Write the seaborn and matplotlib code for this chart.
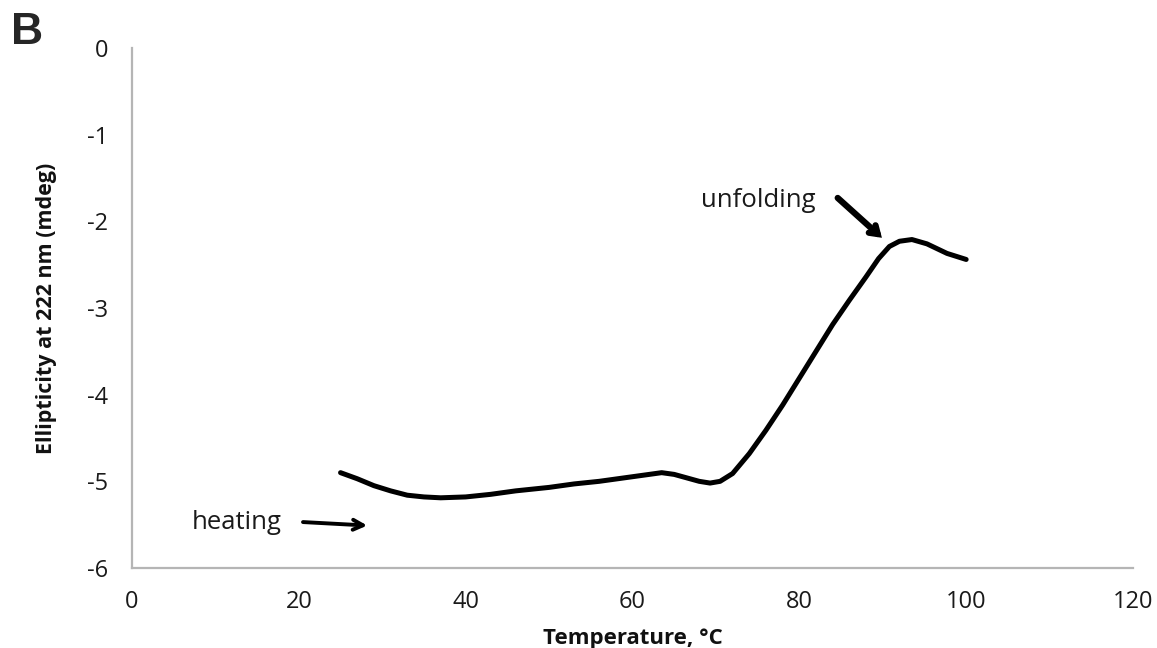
import matplotlib
matplotlib.use("Agg")
import matplotlib.pyplot as plt
import seaborn as sns
import pandas as pd

# Data
temperature = [25, 27, 29, 31, 33, 35, 37, 40, 43, 46, 50, 53, 56, 59, 62, 63.5,
               65, 66.5, 68, 69.3, 70.5, 72, 74, 76, 78, 80, 82, 84, 86, 88,
               89.5, 90.8, 92, 93.5, 95.3, 97.7, 100]
ellipticity = [-4.90, -4.97, -5.05, -5.11, -5.16, -5.18, -5.19, -5.18, -5.15,
               -5.11, -5.07, -5.03, -5.00, -4.96, -4.92, -4.90, -4.92, -4.96,
               -5.00, -5.02, -5.00, -4.91, -4.68, -4.41, -4.12, -3.81, -3.50,
               -3.19, -2.91, -2.64, -2.43, -2.29, -2.23, -2.21, -2.26, -2.37,
               -2.44]
x_ticks = [0, 20, 40, 60, 80, 100, 120]
y_ticks = [0, -1, -2, -3, -4, -5, -6]

sns.set_theme(style="white")
plt.rcParams['font.family'] = ['Open Sans', 'DejaVu Sans']
plt.rcParams['axes.unicode_minus'] = False

fig = plt.figure(figsize=(11.57, 6.48), dpi=100)
ax = fig.add_axes([132/1157, 1 - 568/648, (1133 - 132)/1157, (568 - 48)/648])

df = pd.DataFrame({"Temperature": temperature, "Ellipticity": ellipticity})
sns.lineplot(data=df, x="Temperature", y="Ellipticity", ax=ax,
             color="black", linewidth=3.6, sort=False)
ax.lines[0].set_solid_joinstyle("round")
ax.lines[0].set_solid_capstyle("round")

ax.set_xlim(0, 120)
ax.set_ylim(-6, 0)
ax.set_xticks(x_ticks)
ax.set_yticks(y_ticks)
ax.set_xticklabels([str(v) for v in x_ticks])
ax.set_yticklabels([str(v) for v in y_ticks])
ax.tick_params(axis='both', length=0, labelsize=17, colors="#1a1a1a")
ax.tick_params(axis='x', pad=16)
ax.tick_params(axis='y', pad=17)

for s in ["top", "right"]:
    ax.spines[s].set_visible(False)
for s in ["left", "bottom"]:
    ax.spines[s].set_color("#b5b5b5")
    ax.spines[s].set_linewidth(1.6)

ax.set_xlabel("Temperature, °C", fontsize=16, fontweight="bold", labelpad=10,
              color="#111111")
ax.set_ylabel("Ellipticity at 222 nm (mdeg)", fontsize=15.5, fontweight="bold",
              labelpad=22, color="#111111")

ax.annotate("", xy=(89.9, -2.19), xytext=(84.6, -1.73),
            arrowprops=dict(arrowstyle="->,head_length=0.45,head_width=0.3",
                            color="black", lw=4.5, shrinkA=0, shrinkB=0,
                            capstyle="round", joinstyle="miter"))
ax.text(82.0, -1.76, "unfolding", fontsize=18.5, ha="right", va="center",
        color="#1a1a1a")

ax.annotate("", xy=(28.2, -5.51), xytext=(20.5, -5.47),
            arrowprops=dict(arrowstyle="->,head_length=0.6,head_width=0.3",
                            color="black", lw=2.8, shrinkA=0, shrinkB=0))
ax.text(18.0, -5.47, "heating", fontsize=18.5, ha="right", va="center",
        color="#1a1a1a")

fig.text(27/1157, 1 - 32/648, "B", fontsize=32, fontweight="bold",
         ha="center", va="center", family=["Liberation Sans", "DejaVu Sans"])

fig.savefig("out.png", dpi=100)
